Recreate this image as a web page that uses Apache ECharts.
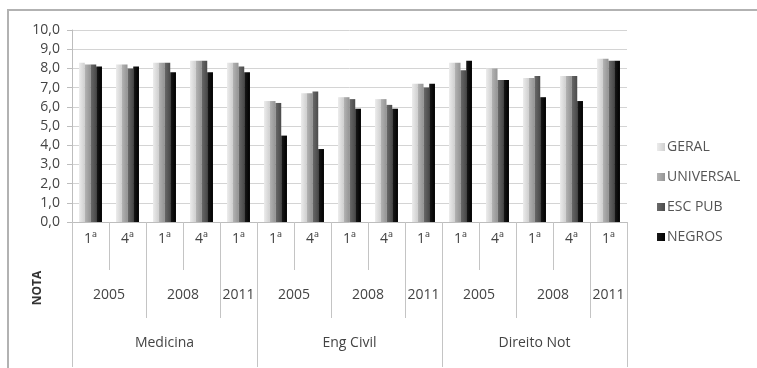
<!DOCTYPE html>
<html>
<head>
<meta charset="utf-8">
<script src="https://cdn.jsdelivr.net/npm/echarts@6/dist/echarts.min.js"></script>
<style>
  html, body { margin: 0; padding: 0; background: #fff; }
  #chart { width: 757px; height: 368px; }
</style>
</head>
<body>
<div id="chart"></div>
<script>
// Exam grades (NOTA) by course, year and period
const series1Labels = ['1ª', '4ª', '1ª', '4ª', '1ª', '1ª', '4ª', '1ª', '4ª', '1ª', '1ª', '4ª', '1ª', '4ª', '1ª'];
const yearLabels = ['2005', '2008', '2011', '2005', '2008', '2011', '2005', '2008', '2011'];
const yearCenters = [1, 3, 4.5, 6, 8, 9.5, 11, 13, 14.5];
const yearBounds = [0, 2, 4, 5, 7, 9, 10, 12, 14, 15];
const courseLabels = ['Medicina', 'Eng Civil', 'Direito Not'];
const courseCenters = [2.5, 7.5, 12.5];
const courseBounds = [0, 5, 10, 15];
const yTicks = [0, 1, 2, 3, 4, 5, 6, 7, 8, 9, 10];

const geral     = [8.3, 8.2, 8.3, 8.4, 8.3, 6.3, 6.7, 6.5, 6.4, 7.2, 8.3, 8.0, 7.5, 7.6, 8.5];
const universal = [8.2, 8.2, 8.3, 8.4, 8.3, 6.3, 6.7, 6.5, 6.4, 7.2, 8.3, 8.0, 7.5, 7.6, 8.5];
const escPub    = [8.2, 8.0, 8.3, 8.4, 8.1, 6.2, 6.8, 6.4, 6.1, 7.0, 7.9, 7.4, 7.6, 7.6, 8.4];
const negros    = [8.1, 8.1, 7.8, 7.8, 7.8, 4.5, 3.8, 5.9, 5.9, 7.2, 8.4, 7.4, 6.5, 6.3, 8.4];

const seriesNames = ['GERAL', 'UNIVERSAL', 'ESC PUB', 'NEGROS'];
const seriesData = [geral, universal, escPub, negros];
const seriesColors = [
  ['#ececec', '#cfcfcf'],
  ['#b4b4b4', '#949494'],
  ['#6a6a6a', '#4a4a4a'],
  ['#1a1a1a', '#000000']
];

const FONT = '"Open Sans", Lato, sans-serif';
const textColor = '#444';
const lineColor = '#c4c4c4';

const chart = echarts.init(document.getElementById('chart'));

const option = {
  animation: false,
  backgroundColor: '#fff',
  textStyle: { fontFamily: FONT },
  grid: { left: 72, right: 130, top: 30, bottom: 146, containLabel: false },
  legend: {
    orient: 'vertical',
    left: 652,
    top: 135,
    itemWidth: 8,
    itemHeight: 8,
    itemGap: 16,
    icon: 'rect',
    textStyle: { fontFamily: FONT, fontSize: 14, color: '#555', padding: [0, 0, 0, -3] },
    data: seriesNames
  },
  xAxis: [
    {
      type: 'category',
      data: series1Labels,
      position: 'bottom',
      axisLine: { show: true, lineStyle: { color: '#bdbdbd', width: 1 } },
      axisTick: { show: true, length: 48, lineStyle: { color: lineColor } },
      axisLabel: { fontFamily: FONT, fontSize: 14, color: textColor, margin: 10 },
      splitLine: { show: false }
    },
    {
      type: 'value',
      min: 0,
      max: 15,
      position: 'bottom',
      axisLine: { show: false },
      splitLine: { show: false },
      axisTick: { show: true, length: 96, customValues: yearBounds, lineStyle: { color: lineColor } },
      axisLabel: {
        customValues: yearCenters,
        margin: 66,
        fontFamily: FONT, fontSize: 14, color: textColor,
        formatter: function (v) { return yearLabels[yearCenters.indexOf(v)]; }
      }
    },
    {
      type: 'value',
      min: 0,
      max: 15,
      position: 'bottom',
      axisLine: { show: false },
      splitLine: { show: false },
      axisTick: { show: true, length: 145, customValues: courseBounds, lineStyle: { color: lineColor } },
      axisLabel: {
        customValues: courseCenters,
        margin: 114,
        fontFamily: FONT, fontSize: 14, color: textColor,
        formatter: function (v) { return courseLabels[courseCenters.indexOf(v)]; }
      }
    }
  ],
  yAxis: {
    type: 'value',
    min: yTicks[0],
    max: yTicks[yTicks.length - 1],
    interval: 1,
    axisLine: { show: true, lineStyle: { color: '#bdbdbd' } },
    axisTick: { show: true, length: 5, lineStyle: { color: '#bdbdbd' } },
    axisLabel: {
      fontFamily: FONT, fontSize: 14, color: textColor, margin: 12,
      formatter: function (v) { return v.toFixed(1).replace('.', ','); }
    },
    splitLine: { show: true, lineStyle: { color: '#d4d4d4', width: 1 } }
  },
  series: seriesData.map(function (d, i) {
    return {
      name: seriesNames[i],
      type: 'bar',
      xAxisIndex: 0,
      data: d,
      barGap: '0%',
      barCategoryGap: '38%',
      itemStyle: {
        color: new echarts.graphic.LinearGradient(0, 0, 1, 0, [
          { offset: 0, color: seriesColors[i][0] },
          { offset: 1, color: seriesColors[i][1] }
        ])
      }
    };
  }),
  graphic: [
    {
      type: 'rect',
      shape: { x: 8, y: 10, width: 760, height: 370 },
      style: { fill: 'none', stroke: '#b2b2b2', lineWidth: 2 },
      silent: true
    },
    {
      type: 'text',
      x: 38,
      y: 288,
      rotation: Math.PI / 2,
      style: {
        text: 'NOTA',
        fontFamily: FONT,
        fontSize: 12,
        fontWeight: 'bold',
        fill: '#333',
        align: 'center',
        verticalAlign: 'middle'
      }
    }
  ]
};

chart.setOption(option);
</script>
</body>
</html>
